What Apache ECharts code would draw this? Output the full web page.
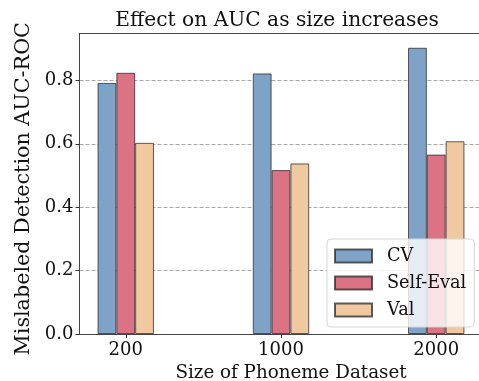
<!DOCTYPE html>
<html><head><meta charset="utf-8">
<script src="https://cdn.jsdelivr.net/npm/echarts@6/dist/echarts.min.js"></script>
<style>html,body{margin:0;padding:0;background:#fff}#c{width:479px;height:381px}</style>
</head><body><div id="c"></div>
<script>
const categories = ["200", "1000", "2000"];
const cvValues = [0.792, 0.822, 0.903];
const selfEvalValues = [0.824, 0.517, 0.566];
const valValues = [0.603, 0.538, 0.608];
const yTicks = [0, 0.2, 0.4, 0.6, 0.8];
const seriesNames = ["CV", "Self-Eval", "Val"];

const FONT = "DejaVu Serif";
const chart = echarts.init(document.getElementById('c'), null, {renderer: 'canvas'});
const toPts = arr => arr.map((v, i) => [i, v]);
const edge = {borderColor: 'rgba(40,40,40,0.75)', borderWidth: 1};
const colors = ['#7fa2c7', '#dc7385', '#f0c9a0'];
const allSeries = [cvValues, selfEvalValues, valValues];
const spine = {color: '#444', width: 1};

chart.setOption({
  animation: false,
  title: {
    text: 'Effect on AUC as size increases',
    left: 272, top: 6, textAlign: 'center',
    textStyle: {fontFamily: FONT, fontSize: 20.2, fontWeight: 'normal', color: '#111'}
  },
  grid: {left: 79.5, top: 33.5, bottom: 47, right: -3.5, containLabel: false, outerBoundsMode: 'none'},
  legend: {
    data: seriesNames,
    orient: 'vertical',
    left: 327, top: 239,
    itemWidth: 37, itemHeight: 13, itemGap: 9,
    padding: [8, 8, 8, 7],
    backgroundColor: 'rgba(255,255,255,0.8)',
    borderColor: '#d6d6d6', borderWidth: 1, borderRadius: 4,
    textStyle: {fontFamily: FONT, fontSize: 17.7, color: '#111', padding: [0, 0, 0, 10]},
    icon: 'rect'
  },
  xAxis: [{
    type: 'value', min: -0.298, max: 2.298,
    name: 'Size of Phoneme Dataset', nameLocation: 'middle', nameGap: 29,
    nameTextStyle: {fontFamily: FONT, fontSize: 18.3, color: '#111', padding: [0, 0, 0, 20]},
    axisLine: {show: true, onZero: false, lineStyle: spine},
    axisTick: {show: true, length: 4, customValues: [0, 1, 2], lineStyle: {color: '#333'}},
    axisLabel: {customValues: [0, 1, 2], formatter: v => categories[Math.round(v)], fontFamily: FONT, fontSize: 18, color: '#111', margin: 7},
    splitLine: {show: false}
  }, {
    type: 'value', position: 'top', min: -0.298, max: 2.298,
    axisLine: {show: true, onZero: false, lineStyle: spine},
    axisTick: {show: false}, axisLabel: {show: false}, splitLine: {show: false}
  }],
  yAxis: {
    type: 'value', min: 0, max: 0.948,
    name: 'Mislabeled Detection AUC-ROC', nameLocation: 'middle', nameGap: 38,
    nameTextStyle: {fontFamily: FONT, fontSize: 20.7, color: '#111', padding: [0, 10, 0, 0]},
    axisLine: {show: true, onZero: false, lineStyle: spine},
    axisTick: {show: true, length: 4, customValues: yTicks, lineStyle: {color: '#333'}},
    axisLabel: {customValues: yTicks, formatter: v => v.toFixed(1), fontFamily: FONT, fontSize: 18, color: '#111', margin: 6},
    splitLine: {show: true, customValues: yTicks, lineStyle: {color: '#aaa', type: [4, 2], width: 1}}
  },
  series: seriesNames.map((n, k) => ({
    name: n, type: 'bar', data: toPts(allSeries[k]),
    barWidth: 18.8, barGap: '0%',
    itemStyle: Object.assign({color: colors[k]}, edge)
  }))
});
</script></body></html>
